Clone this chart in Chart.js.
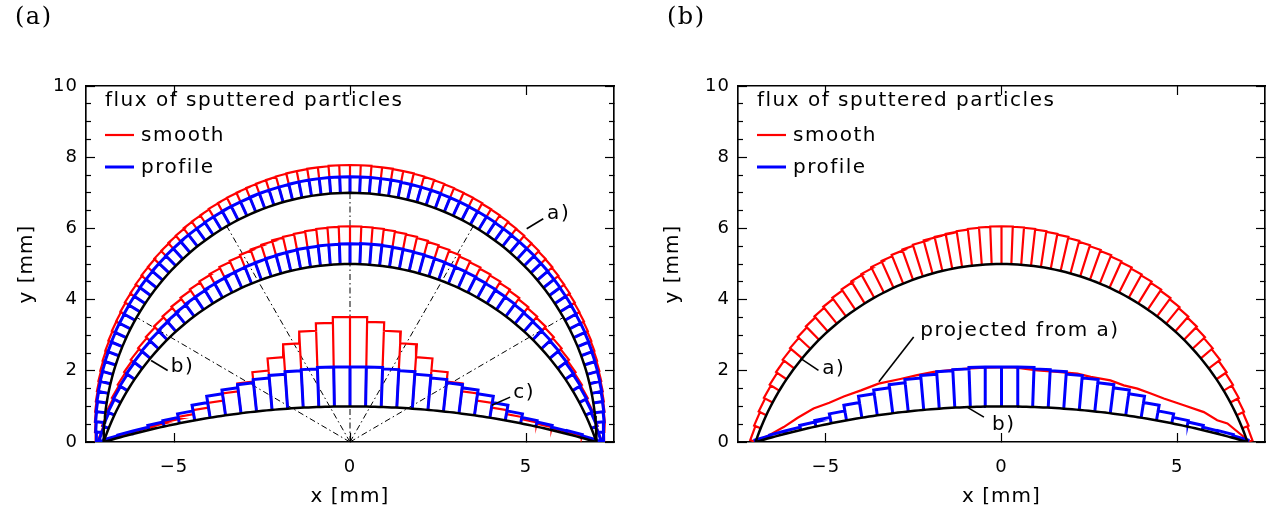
<!DOCTYPE html>
<html>
<head>
<meta charset="utf-8">
<script src="https://cdn.jsdelivr.net/npm/chart.js@4.4.0/dist/chart.umd.min.js"></script>
<style>
  body { margin: 0; background: #fff; width: 1276px; height: 518px; overflow: hidden; position: relative; }
  canvas { position: absolute; top: 0; }
  #chartA { left: 0; }
  #chartB { left: 652px; }
</style>
</head>
<body>
<canvas id="chartA" width="640" height="518"></canvas>
<canvas id="chartB" width="624" height="518"></canvas>
<script>
const xTicks = [-5, 0, 5];
const yTicks = [0, 2, 4, 6, 8, 10];
const yMinorTicks = [0.5, 1, 1.5, 2.5, 3, 3.5, 4.5, 5, 5.5, 6.5, 7, 7.5, 8.5, 9, 9.5];
const seriesNames = ['smooth', 'profile'];
const legendTitle = 'flux of sputtered particles';

// substrate profiles: circular arcs through (-7,0) and (7,0), apex height in mm
const halfWidth = 7;
const apexA = 7, apexB = 5, apexC = 1;

// flux per bin (mm, normal to the surface), left to right
const smoothA = [0.23,0.25,0.27,0.29,0.31,0.33,0.35,0.37,0.39,0.41,0.43,0.45,0.46,0.48,0.50,0.51,0.53,0.55,0.56,0.58,
  0.59,0.61,0.62,0.64,0.65,0.66,0.68,0.69,0.70,0.71,0.72,0.73,0.74,0.75,0.76,0.76,0.77,0.77,0.78,0.78,
  0.78,0.78,0.77,0.77,0.76,0.76,0.75,0.74,0.73,0.72,0.71,0.70,0.69,0.67,0.66,0.65,0.63,0.62,0.60,0.59,
  0.57,0.56,0.54,0.52,0.51,0.49,0.47,0.46,0.44,0.42,0.40,0.38,0.36,0.34,0.32,0.30,0.28,0.26,0.24,0.22];
const profileA = [0.21,0.23,0.25,0.26,0.28,0.29,0.30,0.31,0.32,0.33,0.34,0.35,0.35,0.36,0.37,0.37,0.38,0.38,0.39,0.39,
  0.40,0.40,0.41,0.41,0.41,0.42,0.42,0.43,0.43,0.43,0.44,0.44,0.44,0.44,0.45,0.45,0.45,0.45,0.45,0.45,
  0.45,0.45,0.45,0.45,0.45,0.44,0.44,0.44,0.44,0.43,0.43,0.43,0.42,0.42,0.42,0.41,0.41,0.40,0.40,0.40,
  0.39,0.39,0.38,0.38,0.37,0.37,0.36,0.35,0.35,0.34,0.33,0.32,0.31,0.30,0.29,0.27,0.26,0.24,0.22,0.20];
const smoothB = [0.16,0.20,0.24,0.28,0.32,0.36,0.41,0.45,0.49,0.53,0.57,0.61,0.65,0.69,0.73,0.76,0.80,0.83,0.87,0.90,
  0.93,0.96,0.98,1.00,1.02,1.04,1.05,1.06,
  1.06,1.05,1.04,1.02,1.00,0.98,0.95,0.92,0.89,0.86,0.82,0.79,0.75,0.72,0.68,0.64,0.60,0.56,0.52,0.48,
  0.44,0.40,0.35,0.31,0.27,0.23,0.19,0.15];
const profileB = [0.14,0.17,0.20,0.23,0.25,0.28,0.30,0.32,0.34,0.36,0.38,0.40,0.42,0.43,0.45,0.46,0.48,0.49,0.50,0.51,
  0.52,0.53,0.54,0.55,0.55,0.56,0.56,0.57,
  0.57,0.58,0.58,0.57,0.56,0.55,0.54,0.53,0.52,0.51,0.50,0.49,0.47,0.46,0.44,0.43,0.41,0.39,0.37,0.35,
  0.33,0.31,0.28,0.26,0.23,0.20,0.17,0.14];
const smoothC = [0.03,0.05,0.06,0.08,0.12,0.18,0.29,0.42,0.62,0.84,1.11,1.45,1.81,2.14,2.35,2.51,
  2.51,2.38,2.14,1.81,1.45,1.11,0.84,0.62,0.42,0.29,0.18,0.12,0.08,0.05,0.05,0.03];
const profileC = [0.06,0.08,0.08,0.13,0.17,0.27,0.43,0.61,0.72,0.81,0.90,0.97,1.04,1.07,1.11,1.11,
  1.11,1.11,1.07,1.04,0.97,0.90,0.81,0.72,0.61,0.43,0.27,0.17,0.13,0.08,0.09,0.06];

// panel (b): smooth flux of a) projected onto b)
const projX = [-7.0,-6.6,-6.2,-5.8,-5.35,-4.9,-4.49,-4.0,-3.5,-2.88,-2.4,-1.93,-1.45,-0.98,-0.5,0.3,1.02,1.6,2.16,2.54,3.1,3.48,3.87,4.25,4.62,5.19,5.76,6.14,6.43,6.9,7.0];
const projY = [0,0.2,0.42,0.68,0.94,1.1,1.28,1.45,1.64,1.77,1.88,1.97,2.02,2.06,2.09,2.1,2.01,1.97,1.92,1.83,1.73,1.59,1.5,1.36,1.22,1.03,0.84,0.61,0.52,0.14,0];

// dash-dot rays from the source at the origin (degrees)
const rayAngles = [30, 60, 90, 120, 150];
const rayLength = 7;

const RED = '#ff0000', BLUE = '#0000ff', BLACK = '#000000';
const FONT = 'DejaVu Sans';

function arcOf(h) {
  const c = (h * h - halfWidth * halfWidth) / (2 * h);
  return { c: c, r: h - c, tmax: Math.asin(halfWidth / (h - c)) };
}

function onArc(g, th) {
  return { x: g.r * Math.sin(th), y: g.c + g.r * Math.cos(th), nx: Math.sin(th), ny: Math.cos(th) };
}

// bin edge k of n: 'ray' = equal angles seen from the origin, 'arc' = equal arc length
function edge(g, k, n, mode) {
  if (mode === 'arc') return onArc(g, -g.tmax + 2 * g.tmax * k / n);
  const phi = Math.PI * (1 - k / n);
  const s = Math.sin(phi);
  const t = g.c * s + Math.sqrt(Math.max(0, g.c * g.c * s * s - g.c * g.c + g.r * g.r));
  const x = t * Math.cos(phi), y = t * s;
  return { x: x, y: y, nx: x / g.r, ny: (y - g.c) / g.r };
}

function bars(h, flux, mode) {
  const g = arcOf(h), n = flux.length, e = [];
  for (let k = 0; k <= n; k++) e.push(edge(g, k, n, mode));
  const at = (k, v) => ({ x: e[k].x + v * e[k].nx, y: e[k].y + v * e[k].ny });
  const pts = [at(0, 0)];
  flux.forEach((v, i) => { pts.push(at(i, v), at(i + 1, v)); });
  pts.push(at(n, 0));
  for (let k = 1; k < n; k++) {
    pts.push({ x: null, y: null }, at(k, 0), at(k, Math.max(flux[k - 1], flux[k])));
  }
  return pts;
}

function curve(h) {
  const g = arcOf(h), pts = [];
  for (let i = 0; i <= 120; i++) {
    const p = onArc(g, -g.tmax + 2 * g.tmax * i / 120);
    pts.push({ x: p.x, y: p.y });
  }
  return pts;
}

function rays() {
  const pts = [];
  rayAngles.forEach(a => {
    const r = a * Math.PI / 180;
    pts.push({ x: 0, y: 0 }, { x: rayLength * Math.cos(r), y: rayLength * Math.sin(r) }, { x: null, y: null });
  });
  return pts;
}

function ds(data, color, width, dash) {
  return {
    data: data, borderColor: color, backgroundColor: color, borderWidth: width,
    borderDash: dash || [], showLine: true, pointRadius: 0, pointHoverRadius: 0,
    fill: false, tension: 0, spanGaps: false, borderJoinStyle: 'miter', borderCapStyle: 'butt'
  };
}

function fmt(v) {
  return v < 0 ? '\u2212' + Math.abs(v) : String(v);
}

const notes = {
  id: 'notes',
  beforeDraw(chart) {
    chart.ctx.letterSpacing = '1px';
  },
  afterDraw(chart, args, o) {
    const ctx = chart.ctx, a = chart.chartArea, sx = chart.scales.x, sy = chart.scales.y;
    const px = v => sx.getPixelForValue(v), py = v => sy.getPixelForValue(v);
    ctx.save();
    ctx.fillStyle = BLACK;
    ctx.textAlign = 'left';

    ctx.letterSpacing = '1.5px';
    ctx.font = '24px "DejaVu Serif"';
    ctx.textBaseline = 'middle';
    ctx.fillText(o.tag, 15, 18);

    // legend
    ctx.font = '20px "' + FONT + '"';
    ctx.textBaseline = 'alphabetic';
    ctx.fillText(legendTitle, a.left + 19, a.top + 20);
    [[RED, 2.2], [BLUE, 3]].forEach((c, i) => {
      const yy = a.top + 49 + 32 * i;
      ctx.strokeStyle = c[0];
      ctx.lineWidth = c[1];
      ctx.beginPath();
      ctx.moveTo(a.left + 19, yy);
      ctx.lineTo(a.left + 48, yy);
      ctx.stroke();
      ctx.fillText(seriesNames[i], a.left + 55, yy + 6);
    });

    // curve labels with leader lines
    ctx.strokeStyle = BLACK;
    ctx.lineWidth = 1.6;
    o.leaders.forEach(l => {
      ctx.beginPath();
      ctx.moveTo(px(l[0]), py(l[1]));
      ctx.lineTo(px(l[2]), py(l[3]));
      ctx.stroke();
    });
    ctx.textBaseline = 'middle';
    o.labels.forEach(t => ctx.fillText(t.text, px(t.x), py(t.y)));
    ctx.restore();
  }
};

function yAxis(pos, ticks, len, weight, width, labels, titlePad) {
  const s = {
    type: 'linear', position: pos, min: 0, max: 10, weight: weight,
    afterBuildTicks: sc => { sc.ticks = ticks.map(v => ({ value: v })); },
    afterFit: sc => { sc.width = width; },
    grid: { drawOnChartArea: false, tickLength: -len, tickColor: BLACK, tickWidth: 1.2 },
    border: { display: true, color: BLACK, width: 1.4 },
    ticks: { display: labels, padding: 17, color: BLACK, font: { family: FONT, size: 18 }, callback: fmt }
  };
  if (labels) {
    s.title = { display: true, text: 'y [mm]', color: BLACK, font: { family: FONT, size: 20 }, padding: { top: titlePad, bottom: 0 } };
  }
  return s;
}

function xAxis(pos, labels, height) {
  const s = {
    type: 'linear', position: pos, min: -7.5, max: 7.5,
    afterBuildTicks: sc => { sc.ticks = xTicks.map(v => ({ value: v })); },
    afterFit: sc => { sc.height = height; },
    grid: { drawOnChartArea: false, tickLength: -9, tickColor: BLACK, tickWidth: 1.2 },
    border: { display: true, color: BLACK, width: 1.4 },
    ticks: { display: labels, padding: 24, color: BLACK, font: { family: FONT, size: 18 }, callback: fmt }
  };
  if (labels) {
    s.title = { display: true, text: 'x [mm]', color: BLACK, font: { family: FONT, size: 20 }, padding: { top: 0, bottom: 9 } };
  }
  return s;
}

function options(rightPad, titlePad, tag, labels, leaders) {
  return {
    responsive: false,
    devicePixelRatio: 1,
    animation: false,
    events: [],
    layout: { padding: { left: 0, top: 86, right: rightPad, bottom: 0 } },
    scales: {
      x: xAxis('bottom', true, 76),
      xTop: xAxis('top', false, 0),
      y: yAxis('left', yTicks, 9, 1, 86, true, titlePad),
      yMinor: yAxis('left', yMinorTicks, 5, 0, 0, false, 0),
      yRight: yAxis('right', yTicks, 9, 0, 0, false, 0),
      yRightMinor: yAxis('right', yMinorTicks, 5, 1, 0, false, 0)
    },
    plugins: {
      legend: { display: false },
      tooltip: { enabled: false },
      notes: { tag: tag, labels: labels, leaders: leaders }
    }
  };
}

new Chart(document.getElementById('chartA'), {
  type: 'scatter',
  data: {
    datasets: [
      ds(curve(apexA), BLACK, 2.5),
      ds(curve(apexB), BLACK, 2.5),
      ds(curve(apexC), BLACK, 2.5),
      ds(bars(apexA, profileA, 'ray'), BLUE, 3),
      ds(bars(apexB, profileB, 'ray'), BLUE, 3),
      ds(bars(apexC, profileC, 'arc'), BLUE, 3),
      ds(bars(apexA, smoothA, 'ray'), RED, 2.2),
      ds(bars(apexB, smoothB, 'ray'), RED, 2.2),
      ds(bars(apexC, smoothC, 'arc'), RED, 2.2),
      ds(rays(), BLACK, 1, [6, 3, 1.5, 3])
    ]
  },
  options: options(26, 15, '(a)',
    [{ text: 'a)', x: 5.6, y: 6.4 }, { text: 'b)', x: -5.09, y: 2.11 }, { text: 'c)', x: 4.64, y: 1.38 }],
    [[5.02, 5.99, 5.49, 6.27], [-5.65, 2.29, -5.18, 2.01], [4.03, 1.03, 4.55, 1.26]]),
  plugins: [notes]
});

new Chart(document.getElementById('chartB'), {
  type: 'scatter',
  data: {
    datasets: [
      ds(curve(apexB), BLACK, 2.5),
      ds(curve(apexC), BLACK, 2.5),
      ds(bars(apexC, profileC, 'arc'), BLUE, 3),
      ds(projX.map((x, i) => ({ x: x, y: projY[i] })), RED, 2.2),
      ds(bars(apexB, smoothB, 'ray'), RED, 2.2)
    ]
  },
  options: options(11, 9, '(b)',
    [{ text: 'a)', x: -5.1, y: 2.06 }, { text: 'projected from a)', x: -2.31, y: 3.12 }, { text: 'b)', x: -0.27, y: 0.47 }],
    [[-5.72, 2.35, -5.21, 2.01], [-2.5, 2.95, -3.49, 1.69], [-0.98, 0.98, -0.5, 0.7]]),
  plugins: [notes]
});
</script>
</body>
</html>
